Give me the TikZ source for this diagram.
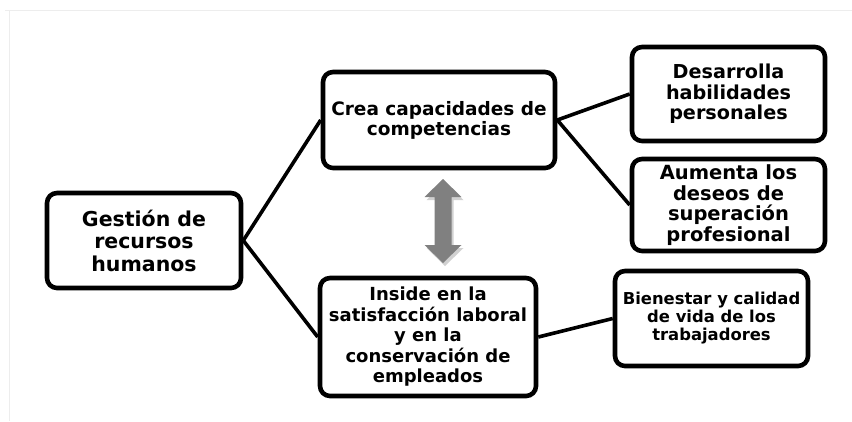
\documentclass[tikz,border=0pt]{standalone}
\usepackage{fontspec}
\setmainfont{DejaVu Sans}
\begin{document}
\begin{tikzpicture}[x=1pt,y=-1pt,
  box/.style={draw=black, line width=4.6pt, rounded corners=10pt, fill=white,
    align=center, inner sep=2pt, font=\bfseries},
  link/.style={draw=black, line width=3.6pt}]
\useasboundingbox (0,0) rectangle (852,421);
\fill[white] (0,0) rectangle (852,421);
\draw[black!7, line width=0.8pt] (5,10) -- (852,10);
\draw[black!7, line width=0.8pt] (9,10) -- (9,421);

\node[box, minimum width=194pt, minimum height=95pt,
  font=\bfseries\fontsize{20.5}{22.5}\selectfont] (g) at (144,240.5)
  {Gestión de\\recursos\\humanos};
\node[box, minimum width=232pt, minimum height=96pt,
  font=\bfseries\fontsize{18.5}{20}\selectfont] (c) at (439,120)
  {Crea capacidades de\\competencias};
\node[box, minimum width=216pt, minimum height=118pt,
  font=\bfseries\fontsize{18}{20.5}\selectfont] (i) at (428,337)
  {Inside en la\\satisfacción laboral\\y en la\\conservación de\\empleados};
\node[box, minimum width=193pt, minimum height=94pt,
  font=\bfseries\fontsize{19.2}{20.5}\selectfont] (d) at (728.5,94)
  {Desarrolla\\habilidades\\personales};
\node[box, minimum width=193pt, minimum height=92pt,
  font=\bfseries\fontsize{19.5}{20.7}\selectfont] (a) at (728.5,205)
  {Aumenta los\\deseos de\\superación\\profesional};
\node[box, minimum width=193pt, minimum height=95pt,
  font=\bfseries\fontsize{16.4}{18}\selectfont] (b) at (711.5,318.5)
  {Bienestar y calidad\\de vida de los\\trabajadores};

\path[link] (g.east) -- (c.west);
\path[link] (g.east) -- (i.west);
\path[link] (c.east) -- (d.west);
\path[link] (c.east) -- (a.west);
\path[link] (i.east) -- (b.west);

% double arrow with soft shadow
\begin{scope}[shift={(2,3)}]
\fill[black!18] (443,179) -- (461.5,197) -- (451.5,197) -- (451.5,245) -- (461.5,245)
  -- (443,263) -- (424.5,245) -- (434.5,245) -- (434.5,197) -- (424.5,197) -- cycle;
\end{scope}
\fill[black!50] (443,179) -- (461.5,197) -- (451.5,197) -- (451.5,245) -- (461.5,245)
  -- (443,263) -- (424.5,245) -- (434.5,245) -- (434.5,197) -- (424.5,197) -- cycle;
\end{tikzpicture}
\end{document}
